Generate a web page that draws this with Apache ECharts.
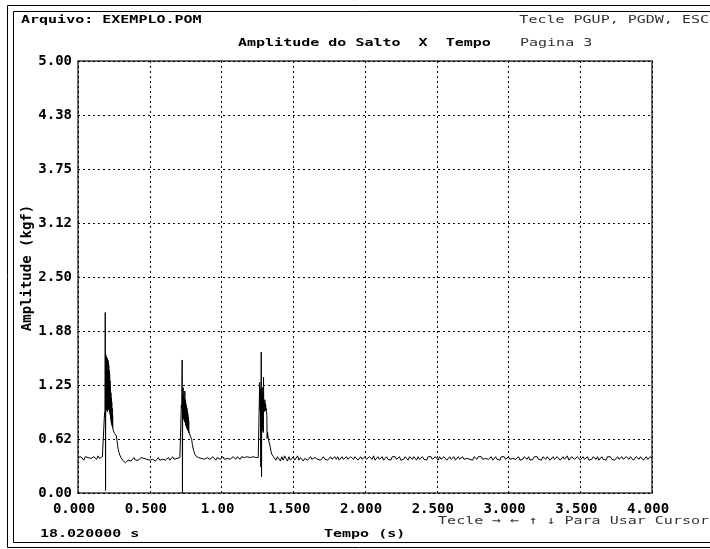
<!DOCTYPE html>
<html>
<head>
<meta charset="utf-8">
<script src="https://cdn.jsdelivr.net/npm/echarts@6/dist/echarts.min.js"></script>
<style>
  html, body { margin: 0; padding: 0; background: #fff; }
  #main { width: 710px; height: 549px; }
</style>
</head>
<body>
<div id="main"></div>
<script type="text/javascript">
    // eixos
    var yTicks = ['0.00', '0.62', '1.25', '1.88', '2.50', '3.12', '3.75', '4.38', '5.00'];
    var xTicks = ['0.000', '0.500', '1.00', '1.500', '2.000', '2.500', '3.000', '3.500', '4.000'];

    // linha de base, amostras a cada 0.01 s a partir de 0
    var baseStep = 0.01;
    var baseAmp = [
        0.41,0.39,0.42,0.40,0.38,0.42,0.40,0.41,0.43,0.40,
        0.39,0.42,0.41,0.39,0.43,0.40,0.39,0.42,0.41,0.40,
        0.41,0.41,0.41,0.41,0.41,0.41,0.41,0.41,0.41,0.41,
        0.40,0.38,0.37,0.35,0.36,0.38,0.40,0.37,0.39,0.41,
        0.38,0.40,0.38,0.37,0.41,0.39,0.40,0.38,0.39,0.41,
        0.38,0.40,0.39,0.41,0.37,0.39,0.41,0.38,0.40,0.39,
        0.41,0.38,0.40,0.41,0.38,0.40,0.42,0.39,0.38,0.40,
        0.40,0.41,0.40,0.40,0.40,0.40,0.40,0.40,0.40,0.40,
        0.42,0.42,0.42,0.42,0.41,0.39,0.40,0.42,0.39,0.40,
        0.41,0.42,0.39,0.40,0.42,0.40,0.38,0.41,0.42,0.39,
        0.40,0.42,0.39,0.41,0.40,0.42,0.39,0.40,0.42,0.41,
        0.39,0.42,0.40,0.39,0.42,0.40,0.41,0.39,0.42,0.40,
        0.41,0.39,0.42,0.40,0.41,0.42,0.39,0.40,0.40,0.40,
        0.40,0.40,0.40,0.40,0.40,0.40,0.40,0.40,0.38,0.42,
        0.40,0.37,0.42,0.38,0.43,0.40,0.37,0.42,0.38,0.40,
        0.42,0.38,0.40,0.43,0.38,0.41,0.42,0.37,0.40,0.42,
        0.38,0.40,0.42,0.39,0.38,0.41,0.42,0.39,0.40,0.38,
        0.40,0.42,0.39,0.41,0.38,0.40,0.42,0.39,0.40,0.42,
        0.39,0.42,0.38,0.40,0.42,0.39,0.40,0.42,0.39,0.38,
        0.42,0.40,0.39,0.42,0.40,0.38,0.40,0.42,0.39,0.40,
        0.42,0.39,0.38,0.42,0.40,0.39,0.43,0.38,0.40,0.42,
        0.39,0.40,0.42,0.38,0.40,0.42,0.39,0.40,0.38,0.42,
        0.40,0.42,0.39,0.40,0.42,0.38,0.40,0.39,0.42,0.40,
        0.38,0.42,0.40,0.39,0.42,0.40,0.38,0.42,0.39,0.40,
        0.42,0.39,0.40,0.38,0.42,0.40,0.42,0.39,0.40,0.42,
        0.40,0.38,0.42,0.39,0.40,0.42,0.40,0.38,0.40,0.42,
        0.39,0.40,0.42,0.38,0.40,0.42,0.39,0.40,0.42,0.39,
        0.38,0.40,0.42,0.39,0.40,0.38,0.42,0.40,0.39,0.42,
        0.40,0.42,0.39,0.38,0.40,0.42,0.39,0.40,0.42,0.38,
        0.40,0.42,0.39,0.40,0.38,0.42,0.40,0.42,0.39,0.40,
        0.42,0.39,0.38,0.40,0.42,0.39,0.40,0.42,0.38,0.40,
        0.39,0.42,0.40,0.39,0.42,0.38,0.40,0.39,0.42,0.40,
        0.42,0.39,0.40,0.38,0.42,0.40,0.39,0.42,0.40,0.38,
        0.40,0.42,0.39,0.40,0.42,0.40,0.38,0.40,0.42,0.39,
        0.40,0.43,0.38,0.40,0.42,0.43,0.39,0.40,0.42,0.40,
        0.38,0.40,0.42,0.39,0.40,0.42,0.38,0.40,0.39,0.42,
        0.40,0.39,0.42,0.38,0.40,0.42,0.39,0.40,0.38,0.42,
        0.40,0.42,0.39,0.40,0.38,0.40,0.42,0.39,0.40,0.42,
        0.39,0.38,0.42,0.40,0.39,0.42,0.40,0.38,0.40,0.42,
        0.40,0.39,0.42,0.40,0.38,0.40,0.42,0.39,0.40,0.42,
        0.40
    ];

    // saltos (tempo, amplitude)
    var salto1T = [0.176,0.180,0.183,0.185,0.188,0.190,0.192,0.1935,0.195,0.1965,0.198,0.1995,0.201,0.2025,0.204,0.2055,0.207,0.2085,0.210,0.2115,0.213,0.2145,0.216,0.2175,0.219,0.2205,0.222,0.2235,0.225,0.2265,0.228,0.2295,0.231,0.2325,0.234,0.2355,0.237,0.2385,0.240,0.2415,0.243,0.246,0.250,0.254,0.258,0.263,0.268,0.272,0.276,0.281,0.286,0.291,0.296,0.300,0.305];
    var salto1A = [0.40,0.41,0.42,0.93,0.88,2.09,0.03,1.60,1.02,1.58,0.96,1.57,1.00,1.56,0.94,1.55,0.98,1.54,1.02,1.52,0.96,1.48,1.00,1.42,0.95,1.38,0.92,1.30,0.90,1.22,0.86,1.16,0.82,1.10,0.80,1.05,0.78,0.98,0.76,0.90,0.74,0.76,0.73,0.69,0.70,0.68,0.66,0.60,0.55,0.50,0.47,0.44,0.42,0.41,0.40];

    var salto2T = [0.712,0.716,0.718,0.720,0.723,0.726,0.728,0.7295,0.731,0.7325,0.734,0.7355,0.737,0.7385,0.740,0.7415,0.743,0.7445,0.746,0.7475,0.749,0.7505,0.752,0.7535,0.755,0.7565,0.758,0.7595,0.761,0.7625,0.764,0.7655,0.767,0.7685,0.770,0.7715,0.773,0.776,0.779,0.782,0.787,0.792,0.797,0.802,0.808,0.814,0.820,0.826,0.832];
    var salto2A = [0.41,0.40,0.42,1.02,0.98,1.54,0.00,1.10,0.88,1.22,0.86,1.14,0.90,1.10,0.84,1.06,0.82,1.18,0.86,1.08,0.80,1.05,0.78,1.02,0.77,1.00,0.75,0.98,0.74,0.95,0.73,0.92,0.72,0.88,0.70,0.84,0.72,0.74,0.70,0.66,0.64,0.62,0.56,0.52,0.48,0.45,0.43,0.42,0.41];

    var salto3T = [1.256,1.260,1.264,1.266,1.268,1.2695,1.271,1.273,1.275,1.277,1.279,1.2805,1.282,1.2835,1.285,1.2865,1.288,1.2895,1.291,1.293,1.2945,1.296,1.2975,1.299,1.3005,1.302,1.3035,1.305,1.3065,1.308,1.3095,1.311,1.313,1.316,1.318,1.321,1.325,1.330,1.335,1.340,1.345,1.350,1.356,1.362,1.368];
    var salto3A = [0.41,0.40,0.42,1.28,1.22,0.95,1.20,0.40,0.30,1.63,0.19,1.05,0.75,1.22,0.80,1.15,0.72,1.10,0.70,1.34,0.96,1.05,0.94,1.00,0.96,1.08,0.97,1.04,0.96,1.02,0.95,0.98,0.94,0.90,0.63,0.70,0.64,0.60,0.58,0.53,0.48,0.45,0.43,0.42,0.41];

    var saltos = [[salto1T, salto1A], [salto2T, salto2A], [salto3T, salto3A]];

    // monta a serie: linha de base fora dos saltos + pontos dos saltos
    var serie = [];
    for (var i = 0; i < baseAmp.length; i++) {
        var t = +(i * baseStep).toFixed(3);
        var dentro = saltos.some(function (s) {
            return t >= s[0][0] && t <= s[0][s[0].length - 1];
        });
        if (!dentro) serie.push([t, baseAmp[i]]);
    }
    saltos.forEach(function (s) {
        for (var k = 0; k < s[0].length; k++) serie.push([s[0][k], s[1][k]]);
    });
    serie.sort(function (a, b) { return a[0] - b[0]; });

    var fonte = 'DejaVu Sans Mono';
    // texto de tela, achatado como a fonte do DOS
    function texto(str, x, y, negrito, cor, alinh) {
        return {
            type: 'text', x: x, y: y, scaleY: 0.75,
            style: {
                text: str, fill: cor || '#000', font: (negrito ? 'bold ' : '') + '15px ' + fonte,
                align: alinh || 'left', verticalAlign: 'middle'
            }
        };
    }

    var myChart = echarts.init(document.getElementById('main'));
    var option = {
        animation: false,
        backgroundColor: '#fff',
        grid: {
            left: 78, right: 58, top: 61, bottom: 56,
            show: true, borderColor: '#6a6a6a', borderWidth: 2
        },
        xAxis: {
            type: 'value', min: 0, max: 4, interval: 0.5,
            axisLine: { show: false },
            axisTick: { show: false },
            axisLabel: {
                margin: 9, color: '#000', fontFamily: fonte, fontWeight: 'bold', fontSize: 14,
                padding: [0, 8, 0, 0],
                formatter: function (v) { return xTicks[Math.round(v / 0.5)]; }
            },
            splitLine: { show: true, lineStyle: { color: '#000', width: 1, type: [2, 3] } }
        },
        yAxis: {
            type: 'value', min: 0, max: 5, interval: 0.625,
            axisLine: { show: false },
            axisTick: { show: false },
            axisLabel: {
                margin: 6, color: '#000', fontFamily: fonte, fontWeight: 'bold', fontSize: 14,
                formatter: function (v) { return yTicks[Math.round(v / 0.625)]; }
            },
            splitLine: { show: true, lineStyle: { color: '#000', width: 1, type: [2, 3] } }
        },
        series: [{
            type: 'line',
            data: serie,
            showSymbol: false,
            symbol: 'none',
            lineStyle: { color: '#000', width: 1 },
            z: 5
        }],
        graphic: [
            { type: 'rect', shape: { x: 7.5, y: 5.5, width: 720, height: 542 }, style: { fill: null, stroke: '#000', lineWidth: 1 } },
            { type: 'rect', shape: { x: 13.5, y: 11.5, width: 720, height: 531 }, style: { fill: null, stroke: '#000', lineWidth: 1 } },
            texto('Arquivo: EXEMPLO.POM', 21, 20, true),
            texto('Tecle PGUP, PGDW, ESC', 709, 20, false, '#333', 'right'),
            texto('Amplitude do Salto  X  Tempo', 238, 43, true),
            texto('Pagina 3', 520, 43, false, '#333'),
            { type: 'text', x: 27, y: 268, rotation: Math.PI / 2,
              style: { text: 'Amplitude (kgf)', fill: '#000', font: 'bold 14px ' + fonte, align: 'center', verticalAlign: 'middle' } },
            texto('Tecle → ← ↑ ↓ Para Usar Cursor', 709, 521, false, '#333', 'right'),
            texto('18.020000 s', 40, 534, true),
            texto('Tempo (s)', 324, 534, true)
        ]
    };
    myChart.setOption(option);
</script>
</body>
</html>
